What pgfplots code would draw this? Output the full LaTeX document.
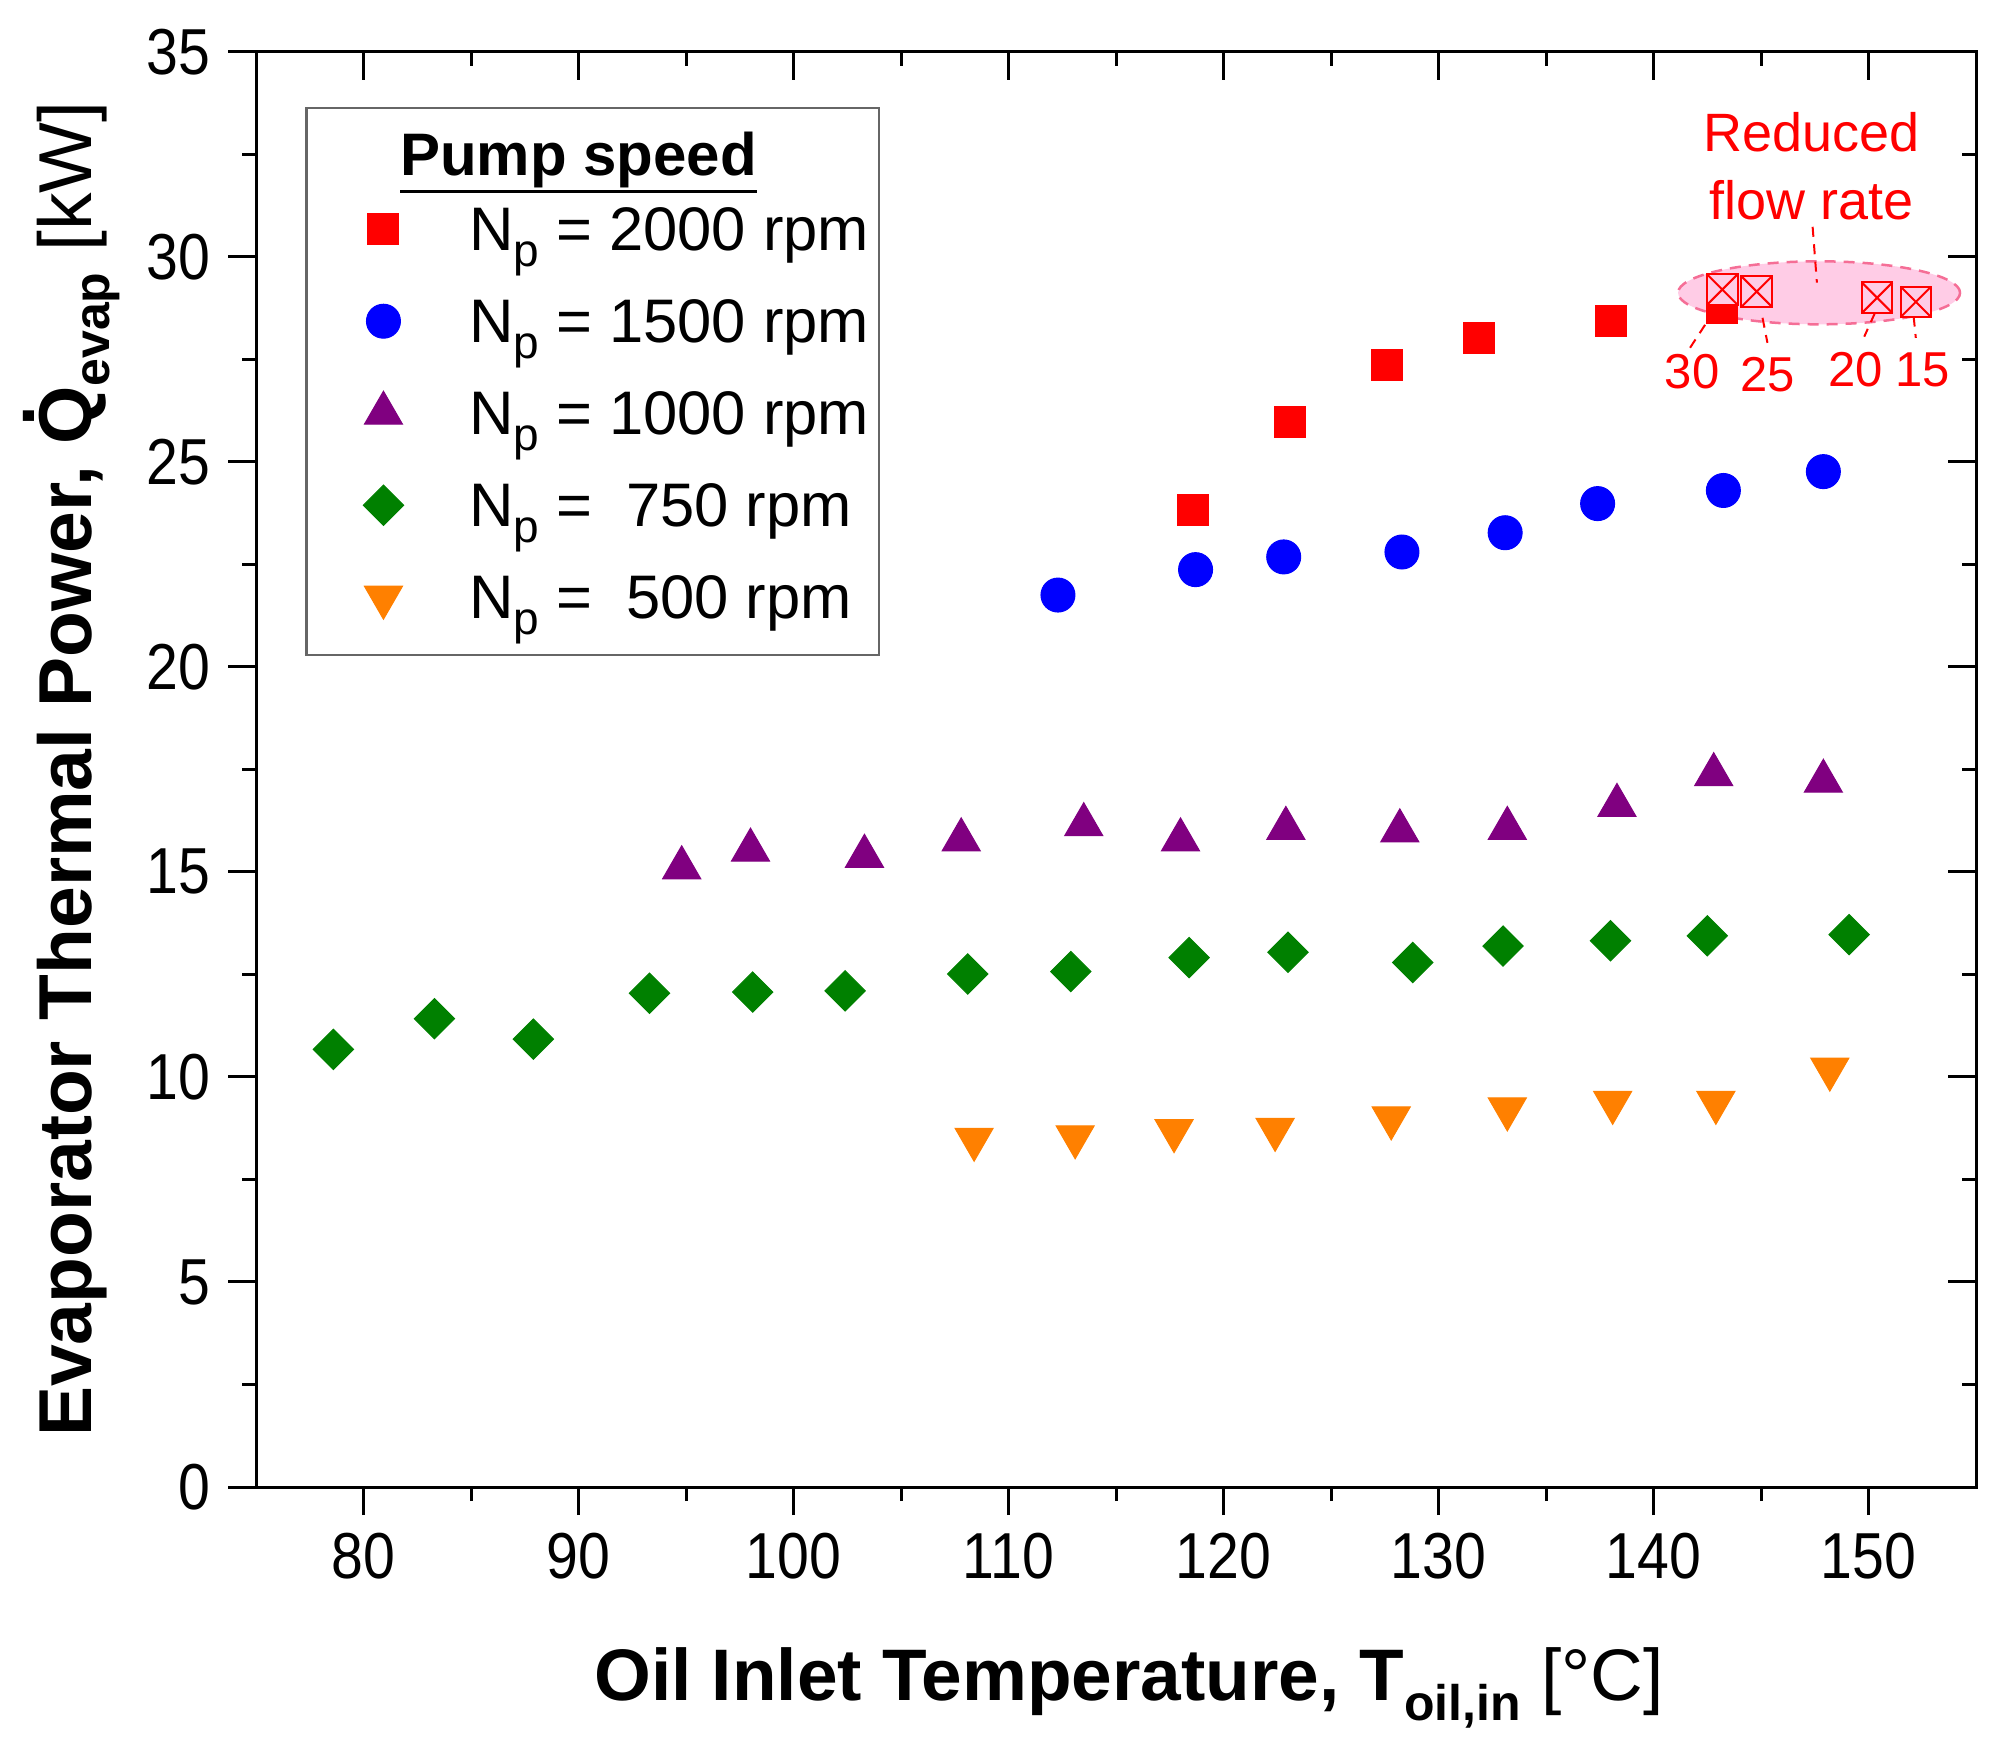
\documentclass[border=0pt]{standalone}
\usepackage{fontspec}
\setmainfont{Liberation Sans}
\newfontfamily\tickfont[FakeStretch=0.88]{Liberation Sans}
\usepackage{pgfplots}
\pgfplotsset{compat=1.18}
\usepackage{pgfplotstable}

\definecolor{cred}{RGB}{255,0,0}
\definecolor{cblue}{RGB}{0,0,255}
\definecolor{cpurple}{RGB}{128,0,128}
\definecolor{cgreen}{RGB}{0,128,0}
\definecolor{corange}{RGB}{255,128,0}
\definecolor{pinkfill}{RGB}{255,204,230}
\definecolor{pinkedge}{RGB}{245,110,150}

\pgfplotstableread{
x y
118.6 23.83
123.1 25.98
127.6 27.35
131.9 28.03
138.0 28.43
143.2 28.75
}\tredA
\pgfplotstableread{
x y
143.2 29.20
144.8 29.15
150.4 29.00
152.2 28.90
}\tredB
\pgfplotstableread{
x y
112.3 21.75
118.7 22.37
122.8 22.68
128.3 22.80
133.1 23.27
137.4 23.98
143.25 24.30
147.9 24.76
}\tblue
\pgfplotstableread{
x y
94.8 15.10
98.0 15.53
103.3 15.38
107.8 15.78
113.5 16.15
118.0 15.78
122.9 16.06
128.2 16.00
133.2 16.06
138.3 16.62
142.8 17.37
147.9 17.21
}\tpurple
\pgfplotstableread{
x y
78.6 10.67
83.3 11.42
87.9 10.92
93.3 12.04
98.1 12.07
102.4 12.10
108.1 12.51
112.9 12.57
118.4 12.91
123.0 13.04
128.8 12.79
133.0 13.19
138.0 13.32
142.5 13.44
149.1 13.47
}\tgreen
\pgfplotstableread{
x y
108.4 8.48
113.1 8.54
117.7 8.69
122.4 8.72
127.8 9.00
133.2 9.22
138.1 9.38
142.9 9.38
148.2 10.19
}\torange

\newcommand{\Np}{N\raisebox{-3.2pt}{\fontsize{9.2}{9.2}\selectfont p}}
\newcommand{\ultitle}{\setbox0\hbox{\textbf{Pump speed}}\rlap{\rule[-3.5pt]{\wd0}{0.7pt}}\box0}

\begin{document}
\begin{tikzpicture}
\pgfplotsset{
  myframe/.style={
    scale only axis, width=344pt, height=287.06pt,
    xmin=75, xmax=155, ymin=0, ymax=35,
    xtick={80,90,...,150}, ytick={0,5,...,35},
    minor x tick num=1, minor y tick num=1,
    major tick length=5.6pt, minor tick length=2.8pt,
    tick style={black, line width=0.6pt},
    axis line style={black, line width=0.6pt},
  }
}
\begin{axis}[
  myframe, name=main,
  xtick pos=left, ytick pos=left,
  tick align=outside,
  tick label style={font=\tickfont\fontsize{13}{13}\selectfont},
  /pgf/number format/assume math mode=true,
  every axis x label/.style={at={([xshift=2.6pt,yshift=-42.6pt]axis description cs:0.5,0)}, anchor=base},
  every axis y label/.style={at={([xshift=-32.8pt]axis description cs:0,0.5)}, rotate=90, anchor=base},
  xlabel={\fontsize{14.6}{16}\selectfont\textbf{Oil Inlet Temperature, T\raisebox{-4pt}{\fontsize{10}{10}\selectfont oil,in}} [°C]},
  ylabel={\fontsize{15}{16}\selectfont\textbf{Evaporator Thermal Power, \ooalign{Q\cr\hidewidth\raisebox{0.76em}{.}\hidewidth\cr}\raisebox{-3.6pt}{\fontsize{10}{10}\selectfont evap}} [kW]},
  legend style={
    at={(0.0285,0.9615)}, anchor=north west,
    draw=black!60, line width=0.5pt,
    inner xsep=6.9pt, inner ysep=3.9pt,
    font=\fontsize{12.3}{12.3}\selectfont,
    row sep=3pt,
    nodes={inner sep=0pt, text height=12pt, text depth=3.4pt},
    /tikz/every odd column/.append style={column sep=13.1pt},
  },
  legend cell align=left,
]
\addlegendimage{empty legend}
\addlegendentry[text height=9.6pt, text depth=0pt]{\hspace*{-13.8pt}\fontsize{12}{12}\selectfont\ultitle}

\fill[pinkfill] (axis cs:147.7,29.12) ellipse [x radius=28.2pt, y radius=6.3pt];
\draw[pinkedge, line width=0.5pt, dash pattern=on 2.2pt off 1.6pt] (axis cs:147.7,29.12) ellipse [x radius=28.2pt, y radius=6.3pt];

\addplot[only marks, mark=square*, mark size=3.1pt, mark options={draw=cred, fill=cred, line width=0.2pt}] table {\tredA};
\addlegendentry{\Np\ = 2000 rpm\hspace*{-4.9pt}}
\addplot[only marks, mark=*, mark size=3.4pt, mark options={draw=cblue, fill=cblue, line width=0.2pt}] table {\tblue};
\addlegendentry{\Np\ = 1500 rpm\hspace*{-4.9pt}}
\addplot[only marks, mark=triangle*, mark size=4.4pt, mark options={draw=cpurple, fill=cpurple, line width=0.2pt}] table {\tpurple};
\addlegendentry{\Np\ = 1000 rpm\hspace*{-4.9pt}}
\addplot[only marks, mark=square*, mark size=2.85pt, mark options={rotate=45, draw=cgreen, fill=cgreen, line width=0.2pt}] table {\tgreen};
\addlegendentry{\Np\ = \hspace{3.4pt}750 rpm\hspace*{-1.5pt}}
\addplot[only marks, mark=triangle*, mark size=4.4pt, mark options={rotate=180, draw=corange, fill=corange, line width=0.2pt}] table {\torange};
\addlegendentry{\Np\ = \hspace{3.4pt}500 rpm\hspace*{-1.5pt}}

\addplot[forget plot, only marks, mark=square*, mark size=3.05pt, mark options={draw=cred, fill=pinkfill, line width=0.4pt}] table {\tredB};
\addplot[forget plot, only marks, mark=x, mark size=4.3pt, mark options={draw=cred, line width=0.4pt}] table {\tredB};

\node[text=cred, font=\fontsize{10.8}{13.6}\selectfont, align=center] at (axis cs:147.35,32.2) {Reduced\\flow rate};
\begin{scope}[cred, line width=0.4pt, dash pattern=on 2pt off 1.5pt]
\draw (axis cs:147.4,30.73) -- (axis cs:147.6,29.37);
\draw (axis cs:142.4,28.34) -- (axis cs:141.7,27.78);
\draw (axis cs:145.07,28.51) -- (axis cs:145.3,27.9);
\draw (axis cs:150.3,28.63) -- (axis cs:149.8,28.05);
\draw (axis cs:152.1,28.54) -- (axis cs:152.2,28.02);
\end{scope}
\begin{scope}[every node/.style={text=cred, font=\fontsize{9.8}{10}\selectfont, inner sep=0pt}]
\node at (axis cs:141.8,27.2) {30};
\node at (axis cs:145.3,27.12) {25};
\node at (axis cs:149.4,27.24) {20};
\node at (axis cs:152.5,27.24) {15};
\end{scope}
\end{axis}
\begin{axis}[
  myframe,
  xtick pos=right, ytick pos=right,
  tick align=inside,
  xticklabels={}, yticklabels={},
]
\end{axis}
\pgfresetboundingbox
\path[use as bounding box] ([shift={(-51.2pt,-52.4pt)}]main.south west) rectangle ([shift={(4.4pt,10.34pt)}]main.north east);
\end{tikzpicture}
\end{document}
